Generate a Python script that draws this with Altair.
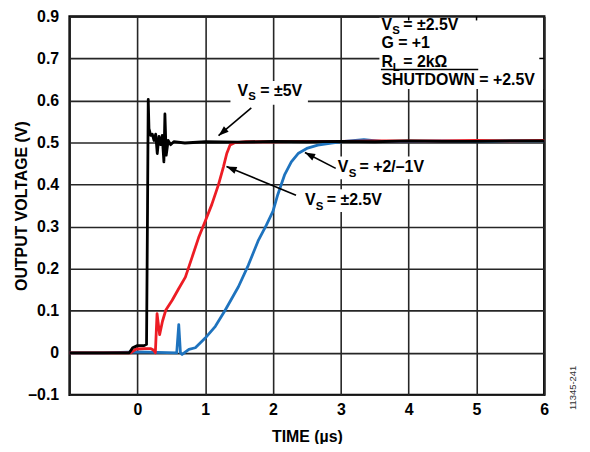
import math
import altair as alt
import pandas as pd

# ---------------- data ----------------
black_t = [-1.0, -0.5, -0.12, -0.07, 0.0, 0.1, 0.135, 0.15, 0.16, 0.171, 0.196, 0.22, 0.245,
           0.27, 0.293, 0.318, 0.342, 0.366, 0.391, 0.406, 0.425, 0.454, 0.489, 0.537, 0.7,
           1.0, 1.5, 2.0, 2.5, 3.0, 3.5, 4.0, 4.5, 5.0, 5.5, 6.0]
black_v = [0.0, 0.0, 0.0, 0.012, 0.017, 0.017, 0.02, 0.35, 0.603, 0.533, 0.517, 0.52, 0.505,
           0.52, 0.474, 0.515, 0.495, 0.517, 0.454, 0.568, 0.47, 0.505, 0.495, 0.502, 0.499,
           0.502, 0.501, 0.503, 0.502, 0.503, 0.502, 0.504, 0.503, 0.503, 0.504, 0.504]

red_t = [-1.0, -0.5, -0.1, -0.02, 0.1, 0.2, 0.24, 0.265, 0.29, 0.328, 0.37, 0.42, 0.513,
         0.6, 0.708, 0.806, 0.903, 1.0, 1.098, 1.196, 1.27, 1.318, 1.367, 1.44, 1.6, 2.0,
         2.5, 3.0, 3.5, 4.0, 4.5, 5.0, 5.5, 6.0]
red_v = [0.0, 0.0, 0.0, 0.009, 0.01, 0.01, 0.006, 0.0, 0.093, 0.043, 0.075, 0.102, 0.125,
         0.15, 0.18, 0.227, 0.274, 0.313, 0.353, 0.40, 0.443, 0.474, 0.494, 0.50, 0.502,
         0.502, 0.503, 0.503, 0.504, 0.504, 0.504, 0.505, 0.504, 0.505]

blue_t = [-1.0, -0.5, 0.0, 0.3, 0.58, 0.61, 0.635, 0.66, 0.76, 0.855, 1.0, 1.15, 1.29, 1.49,
          1.635, 1.78, 1.9, 2.0, 2.07, 2.17, 2.27, 2.37, 2.51, 2.66, 2.86, 3.05, 3.34, 3.6,
          4.0, 4.5, 5.0, 5.5, 6.0]
blue_v = [0.0, 0.0, 0.002, 0.001, 0.0, 0.067, 0.0, -0.004, 0.008, 0.012, 0.035, 0.063, 0.1,
          0.157, 0.208, 0.266, 0.303, 0.337, 0.376, 0.423, 0.454, 0.474, 0.487, 0.494, 0.499,
          0.503, 0.507, 0.503, 0.503, 0.504, 0.503, 0.504, 0.504]

series_names = ["VS = +2/-1V", "VS = ±2.5V", "VS = ±5V"]
series_colors = ["#1E73BE", "#ED1C24", "#000000"]

x_ticks = [-1, 0, 1, 2, 3, 4, 5, 6]
x_tick_labels = ["", "0", "1", "2", "3", "4", "5", "6"]
y_ticks = [-0.1, 0.0, 0.1, 0.2, 0.3, 0.4, 0.5, 0.6, 0.7, 0.8]
y_tick_labels = ["–0.1", "0", "0.1", "0.2", "0.3", "0.4", "0.5", "0.6", "0.7", "0.9"]

# ---------------- layout (pixels, relative to plot area) ----------------
W, H = 478, 381
DY = -2  # plot origin sits 2px lower than in the reference
FONT = "Liberation Sans, Arial, Helvetica, sans-serif"
FS = 16
SUB = 11.5

rows = []
for name, ts, vs in [(series_names[0], blue_t, blue_v),
                     (series_names[1], red_t, red_v),
                     (series_names[2], black_t, black_v)]:
    for i, (t, v) in enumerate(zip(ts, vs)):
        rows.append({"t": t, "v": v, "series": name, "order": i})
df = pd.DataFrame(rows)


def label_expr(vals, labels):
    expr = "''"
    for val, lab in zip(vals, labels):
        expr = f"abs(datum.value - ({val})) < 1e-6 ? '{lab}' : ({expr})"
    return expr


# white backgrounds behind annotation text
bg = pd.DataFrame([
    {"bx": 312, "bx2": 476.8, "by": 1.2, "by2": 75 + DY},
    {"bx": 162, "bx2": 240, "by": 67 + DY, "by2": 91 + DY},
    {"bx": 232, "bx2": 318, "by": 176 + DY, "by2": 199 + DY},
    {"bx": 266, "bx2": 372, "by": 143 + DY, "by2": 166 + DY},
])

# arrows: tail -> head (pixels)
arrows = [((183, 94 + DY), (150, 122 + DY)),
          ((228, 182 + DY), (158, 153 + DY)),
          ((268, 155 + DY), (237, 139 + DY))]
rule_rows = []
head_rows = []
for (tx, ty), (hx, hy) in arrows:
    rule_rows.append({"rx": tx, "ry": ty, "rx2": hx, "ry2": hy, "sw": 1.6})
    ang = math.degrees(math.atan2(hx - tx, -(hy - ty))) % 360
    head_rows.append({"hx": hx, "hy": hy, "ang": ang})
# overline above SHUTDOWN and small inner ticks within the legend box
rule_rows.append({"rx": 313.5, "ry": 55.5 + DY, "rx2": 411.5, "ry2": 55.5 + DY, "sw": 1.5})
rule_rows.append({"rx": 341.5, "ry": 0, "rx2": 341.5, "ry2": 4, "sw": 1.5})
rule_rows.append({"rx": 409.8, "ry": 0, "rx2": 409.8, "ry2": 4, "sw": 1.5})
rule_rows.append({"rx": 473, "ry": 42.3, "rx2": 478, "ry2": 42.3, "sw": 1.5})
rules = pd.DataFrame(rule_rows)
heads = pd.DataFrame(head_rows)

# annotation texts (pixel positions, alphabetic baseline)
text_rows = [
    (314, 15.5, "V", FS), (325, 20, "S", SUB), (336, 15.5, "= ±2.5V", FS),
    (314, 34, "G = +1", FS),
    (314, 52.5, "R", FS), (325.5, 57, "L", SUB), (336, 52.5, "= 2kΩ", FS),
    (314, 71, "SHUTDOWN = +2.5V", FS),
    (169, 82, "V", FS), (180, 86.5, "S", SUB), (192, 82, "= ±5V", FS),
    (237, 192, "V", FS), (248, 196.5, "S", SUB), (259, 192, "= ±2.5V", FS),
    (270, 159, "V", FS), (281, 163.5, "S", SUB), (292, 159, "= +2/–1V", FS),
]
texts = pd.DataFrame([{"px": x, "py": y + DY, "txt": t, "fs": f} for x, y, t, f in text_rows])

xscale = alt.Scale(domain=[-1, 6], nice=False, zero=False)
yscale = alt.Scale(domain=[-0.1, 0.8], nice=False, zero=False)

lines = alt.Chart(df).mark_line(strokeWidth=2.8, strokeJoin="round").encode(
    x=alt.X("t:Q", scale=xscale,
            axis=alt.Axis(values=x_ticks, labelExpr=label_expr(x_ticks, x_tick_labels),
                          title="TIME (µs)", titleX=W / 2, titleY=47,
                          titleBaseline="alphabetic", labelPadding=7,
                          labelFlush=False, labelOverlap=False)),
    y=alt.Y("v:Q", scale=yscale,
            axis=alt.Axis(values=y_ticks, labelExpr=label_expr(y_ticks, y_tick_labels),
                          title="OUTPUT VOLTAGE (V)", titleX=-48, titleY=H / 2,
                          titleAngle=270, titleBaseline="middle", titleAlign="center",
                          labelPadding=11, labelFlush=False, labelOverlap=False)),
    color=alt.Color("series:N", scale=alt.Scale(domain=series_names, range=series_colors),
                    legend=None),
    order="order:Q",
    detail="series:N",
)

bg_layer = alt.Chart(bg).mark_rect(color="white").encode(
    x=alt.X("bx:Q", scale=None), x2="bx2:Q",
    y=alt.Y("by:Q", scale=None), y2="by2:Q",
)

rule_layer = alt.Chart(rules).mark_rule(color="black").encode(
    x=alt.X("rx:Q", scale=None), x2="rx2:Q",
    y=alt.Y("ry:Q", scale=None), y2="ry2:Q",
    strokeWidth=alt.StrokeWidth("sw:Q", scale=None),
)

head_layer = alt.Chart(heads).mark_point(
    shape="M0,0L-0.36,1L0.36,1Z", filled=True, color="black", opacity=1, size=420
).encode(
    x=alt.X("hx:Q", scale=None),
    y=alt.Y("hy:Q", scale=None),
    angle=alt.Angle("ang:Q", scale=None),
)

text_layer = alt.Chart(texts).mark_text(
    align="left", baseline="alphabetic", font=FONT, fontWeight="bold", color="black"
).encode(
    x=alt.X("px:Q", scale=None),
    y=alt.Y("py:Q", scale=None),
    text="txt:N",
    size=alt.Size("fs:Q", scale=None),
)

code_layer = alt.Chart(pd.DataFrame([{"cx": 507, "cy": 374, "c": "11345-241"}])).mark_text(
    align="center", baseline="middle", angle=270, font=FONT, fontSize=9.5, color="#333"
).encode(
    x=alt.X("cx:Q", scale=None),
    y=alt.Y("cy:Q", scale=None),
    text="c:N",
)

chart = alt.layer(bg_layer, lines, rule_layer, head_layer, text_layer, code_layer).properties(
    width=W, height=H,
    autosize=alt.AutoSizeParams(type="none"),
    padding={"left": 62, "top": 7, "right": 38, "bottom": 48},
).configure_view(
    stroke="black", strokeWidth=2.4
).configure_axis(
    grid=True, gridColor="#262626", gridWidth=1.6, gridOpacity=1,
    ticks=False, domain=False,
    labelFont=FONT, labelFontWeight="bold", labelFontSize=FS, labelColor="black",
    titleFont=FONT, titleFontWeight="bold", titleFontSize=FS, titleColor="black",
)

chart.save("out.html", embed_options={"renderer": "svg", "actions": False})
